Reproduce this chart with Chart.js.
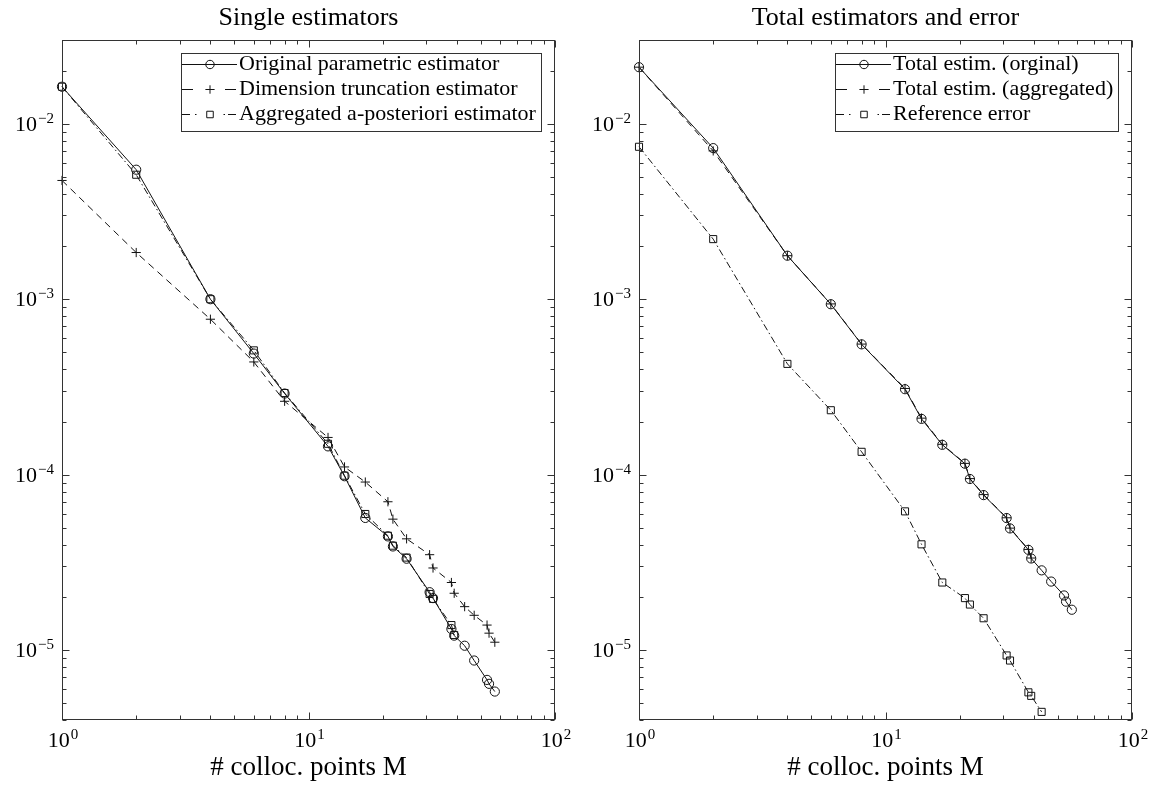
<!DOCTYPE html>
<html>
<head>
<meta charset="utf-8">
<script src="https://cdn.jsdelivr.net/npm/chart.js@4.4.1/dist/chart.umd.min.js"></script>
<style>
  html, body { margin: 0; padding: 0; background: #ffffff; }
  #wrap { position: relative; width: 1152px; height: 787px; overflow: hidden; }
  canvas { position: absolute; top: 0; }
</style>
</head>
<body>
<div id="wrap">
  <canvas id="c1" width="576" height="787" style="left:0px"></canvas>
  <canvas id="c2" width="576" height="787" style="left:576px"></canvas>
</div>
<script>
// ---------------- data ----------------
const M = [1, 2, 4, 6, 8, 12, 14, 17, 21, 22, 25, 31, 32, 38, 39, 43, 47, 53, 54, 57];

// left panel: single estimators
const origParam = [0.01625, 5.47e-3, 1.0e-3, 4.9e-4, 2.9e-4, 1.45e-4, 9.8e-5, 5.67e-5, 4.45e-5, 3.9e-5,
                   3.32e-5, 2.14e-5, 1.98e-5, 1.32e-5, 1.21e-5, 1.06e-5, 8.73e-6, 6.77e-6, 6.43e-6, 5.81e-6];
const dimTrunc  = [4.75e-3, 1.845e-3, 7.69e-4, 4.39e-4, 2.62e-4, 1.63e-4, 1.107e-4, 9.08e-5, 7.01e-5, 5.58e-5,
                   4.31e-5, 3.5e-5, 2.94e-5, 2.43e-5, 2.11e-5, 1.77e-5, 1.58e-5, 1.39e-5, 1.25e-5, 1.11e-5];
const aggPost   = [0.01625, 5.12e-3, 1.0e-3, 5.11e-4, 2.92e-4, 1.5e-4, 9.87e-5, 5.97e-5, 4.49e-5, 3.94e-5,
                   3.37e-5, 2.09e-5, 1.96e-5, 1.39e-5, 1.22e-5];

// right panel: total estimators and error
const totalOrig = [0.021, 7.26e-3, 1.77e-3, 9.36e-4, 5.53e-4, 3.07e-4, 2.08e-4, 1.48e-4, 1.155e-4, 9.45e-5,
                   7.65e-5, 5.66e-5, 4.94e-5, 3.73e-5, 3.33e-5, 2.85e-5, 2.46e-5, 2.05e-5, 1.89e-5, 1.70e-5];
const totalAgg  = [0.021, 7.0e-3, 1.77e-3, 9.4e-4, 5.55e-4, 3.1e-4, 2.1e-4, 1.49e-4, 1.16e-4, 9.5e-5,
                   7.7e-5, 5.68e-5, 4.96e-5, 3.75e-5, 3.35e-5];
const refError  = [7.39e-3, 2.2e-3, 4.28e-4, 2.33e-4, 1.35e-4, 6.18e-5, 4.01e-5, 2.43e-5, 1.98e-5, 1.82e-5,
                   1.52e-5, 9.33e-6, 8.73e-6, 5.75e-6, 5.49e-6, 4.45e-6];

// tick values and labels (base 10 with exponent)
const xTicks = [1, 10, 100];
const xTickExp = ['0', '1', '2'];
const yTicks = [1e-5, 1e-4, 1e-3, 1e-2];
const yTickExp = ['\u22125', '\u22124', '\u22123', '\u22122'];
const tickBase = '10';
const xRange = [1, 100];
const yRange = [4e-6, 0.03];

const titles = ['Single estimators', 'Total estimators and error'];
const xLabel = '# colloc. points M';
const leftLabels = ['Original parametric estimator', 'Dimension truncation estimator', 'Aggregated a-posteriori estimator'];
const rightLabels = ['Total estim. (orginal)', 'Total estim. (aggregated)', 'Reference error'];

// ---------------- styling ----------------
const FONT = "'Liberation Serif', 'Times New Roman', serif";
const AXIS_COLOR = '#333333';
const LINE_COLOR = '#111111';
const DASH = [7, 5];
const DASHDOT = [7, 3, 1.5, 3];

function pts(xs, ys) { return ys.map((v, i) => ({ x: xs[i], y: v })); }

function series(label, values, style, dash) {
  return {
    label: label,
    data: pts(M, values),
    borderColor: LINE_COLOR,
    borderWidth: 1,
    borderDash: dash,
    pointStyle: style,
    pointRadius: style === 'rect' ? 5 : 4.6,
    pointBorderWidth: 1,
    pointBorderColor: LINE_COLOR,
    pointBackgroundColor: 'rgba(0,0,0,0)',
    pointHoverRadius: 0,
    fill: false,
    tension: 0,
    clip: false
  };
}

function drawMark(ctx, style, x, y, r) {
  ctx.beginPath();
  if (style === 'circle') {
    ctx.arc(x, y, r, 0, Math.PI * 2);
  } else if (style === 'rect') {
    const s = r * Math.SQRT1_2;
    ctx.rect(x - s, y - s, 2 * s, 2 * s);
  } else if (style === 'cross') {
    ctx.moveTo(x - r, y); ctx.lineTo(x + r, y);
    ctx.moveTo(x, y - r); ctx.lineTo(x, y + r);
  }
  ctx.stroke();
}

function logTicks(min, max) {
  const out = [];
  const e0 = Math.floor(Math.log10(min)) - 1, e1 = Math.ceil(Math.log10(max)) + 1;
  for (let e = e0; e <= e1; e++) {
    for (let k = 1; k <= 9; k++) {
      const v = k * Math.pow(10, e);
      if (v >= min * 0.9999 && v <= max * 1.0001) out.push({ v: v, major: k === 1 });
    }
  }
  return out;
}

// "10" with raised exponent; y is the baseline of the base text
function drawPow(ctx, base, exp, x, y, align) {
  ctx.font = '22px ' + FONT;
  const wb = ctx.measureText(base).width;
  ctx.font = '15px ' + FONT;
  const we = ctx.measureText(exp).width;
  const total = wb + 1 + we;
  const start = align === 'right' ? x - total : x - total / 2;
  ctx.textAlign = 'left';
  ctx.textBaseline = 'alphabetic';
  ctx.fillStyle = '#000000';
  ctx.font = '22px ' + FONT;
  ctx.fillText(base, start, y);
  ctx.font = '15px ' + FONT;
  ctx.fillText(exp, start + wb + 1, y - 8);
}

// axes frame with inward ticks on all four sides + tick labels
const framePlugin = {
  id: 'frame',
  afterDatasetsDraw(chart) {
    const { ctx, chartArea: a } = chart;
    const xs = chart.scales.x, ys = chart.scales.y;
    const L = Math.round(a.left) + 0.5, R = Math.round(a.right) - 0.5;
    const T = Math.round(a.top) + 0.5, B = Math.round(a.bottom) - 0.5;
    ctx.save();
    ctx.setLineDash([]);
    ctx.strokeStyle = AXIS_COLOR;
    ctx.lineWidth = 1;
    ctx.beginPath();
    logTicks(xs.min, xs.max).forEach(t => {
      const px = Math.round(xs.getPixelForValue(t.v)) + 0.5;
      const len = t.major ? 7 : 4;
      ctx.moveTo(px, B); ctx.lineTo(px, B - len);
      ctx.moveTo(px, T); ctx.lineTo(px, T + len);
    });
    logTicks(ys.min, ys.max).forEach(t => {
      const py = Math.round(ys.getPixelForValue(t.v)) + 0.5;
      const len = t.major ? 7 : 4;
      ctx.moveTo(L, py); ctx.lineTo(L + len, py);
      ctx.moveTo(R, py); ctx.lineTo(R - len, py);
    });
    ctx.stroke();
    ctx.strokeRect(L, T, R - L, B - T);

    // tick labels from the library's ticks
    xs.ticks.forEach(t => {
      const i = xTicks.indexOf(t.value);
      if (i < 0) return;
      drawPow(ctx, tickBase, xTickExp[i], xs.getPixelForValue(t.value) + 1, a.bottom + 27, 'center');
    });
    ys.ticks.forEach(t => {
      const i = yTicks.findIndex(v => Math.abs(v - t.value) / v < 1e-6);
      if (i < 0) return;
      drawPow(ctx, tickBase, yTickExp[i], a.left - 8, ys.getPixelForValue(t.value) + 7, 'right');
    });
    ctx.restore();
  }
};

// boxed legend in the upper-right corner
const legendPlugin = {
  id: 'boxLegend',
  afterDraw(chart) {
    const { ctx, chartArea: a } = chart;
    const ds = chart.data.datasets;
    ctx.save();
    ctx.font = '22px ' + FONT;
    const textW = Math.max(...ds.map(d => ctx.measureText(d.label).width));
    const sampleW = 56, gap = 1, padR = 6, rowH = 25;
    const w = Math.round(sampleW + gap + textW + padR);
    const h = 78;
    const x0 = Math.round(a.right - 14 - w), y0 = Math.round(a.top + 13);
    ctx.fillStyle = '#ffffff';
    ctx.fillRect(x0, y0, w, h);
    ctx.strokeStyle = AXIS_COLOR;
    ctx.lineWidth = 1;
    ctx.setLineDash([]);
    ctx.strokeRect(x0 + 0.5, y0 + 0.5, w, h);
    ds.forEach((d, i) => {
      const cy = Math.round(y0 + 10.5 + i * rowH) + 0.5;
      const sx = x0 + 1;
      const mx = sx + 28;
      ctx.strokeStyle = LINE_COLOR;
      ctx.lineWidth = 1;
      ctx.setLineDash([]);
      ctx.beginPath();
      if (!d.borderDash || d.borderDash.length === 0) {
        ctx.moveTo(sx, cy); ctx.lineTo(sx + 55, cy);
      } else if (d.borderDash.length === 2) {
        ctx.moveTo(sx, cy); ctx.lineTo(sx + 11, cy);
        ctx.moveTo(sx + 43, cy); ctx.lineTo(sx + 54, cy);
        ctx.moveTo(mx - 4.5, cy); ctx.lineTo(mx + 4.5, cy);
      } else {
        ctx.moveTo(sx, cy); ctx.lineTo(sx + 8, cy);
        ctx.moveTo(sx + 13, cy); ctx.lineTo(sx + 14.5, cy);
        ctx.moveTo(sx + 41.5, cy); ctx.lineTo(sx + 43, cy);
        ctx.moveTo(sx + 46, cy); ctx.lineTo(sx + 54, cy);
      }
      ctx.stroke();
      drawMark(ctx, d.pointStyle, mx, cy, d.pointStyle === 'rect' ? 4.6 : 4.2);
      ctx.fillStyle = '#000000';
      ctx.textAlign = 'left';
      ctx.textBaseline = 'middle';
      ctx.fillText(d.label, sx + sampleW + gap, cy);
    });
    ctx.restore();
  }
};

function makeChart(id, title, datasets, yWidth, rightPad) {
  return new Chart(document.getElementById(id), {
    type: 'line',
    data: { datasets: datasets },
    options: {
      responsive: false,
      animation: false,
      devicePixelRatio: 1,
      events: [],
      layout: { padding: { left: 0, right: rightPad, top: 0, bottom: 0 } },
      plugins: {
        legend: { display: false },
        tooltip: { enabled: false },
        title: {
          display: true,
          text: title,
          fullSize: false,
          color: '#000000',
          font: { family: FONT, size: 26, weight: 'normal', lineHeight: 1.2 },
          padding: { top: 2.2, bottom: 6.6 }
        }
      },
      scales: {
        x: {
          type: 'logarithmic',
          position: 'bottom',
          bounds: 'data',
          min: xRange[0],
          max: xRange[1],
          afterBuildTicks: s => { s.ticks = xTicks.map(v => ({ value: v })); },
          afterFit: s => { s.height = 67; },
          grid: { display: false, drawTicks: false },
          border: { display: false },
          ticks: { display: false, autoSkip: false, maxRotation: 0, minRotation: 0 },
          title: {
            display: true,
            text: xLabel,
            color: '#000000',
            font: { family: FONT, size: 27, lineHeight: 1.2 },
            padding: { top: 0, bottom: 3 }
          }
        },
        y: {
          type: 'logarithmic',
          position: 'left',
          bounds: 'data',
          min: yRange[0],
          max: yRange[1],
          afterBuildTicks: s => { s.ticks = yTicks.map(v => ({ value: v })); },
          afterFit: s => { s.width = yWidth; },
          grid: { display: false, drawTicks: false },
          border: { display: false },
          ticks: { display: false, autoSkip: false }
        }
      }
    },
    plugins: [framePlugin, legendPlugin]
  });
}

makeChart('c1', titles[0], [
  series(leftLabels[0], origParam, 'circle', []),
  series(leftLabels[1], dimTrunc, 'cross', DASH),
  series(leftLabels[2], aggPost, 'rect', DASHDOT)
], 62, 21);

makeChart('c2', titles[1], [
  series(rightLabels[0], totalOrig, 'circle', []),
  series(rightLabels[1], totalAgg, 'cross', DASH),
  series(rightLabels[2], refError, 'rect', DASHDOT)
], 63, 20);
</script>
</body>
</html>
